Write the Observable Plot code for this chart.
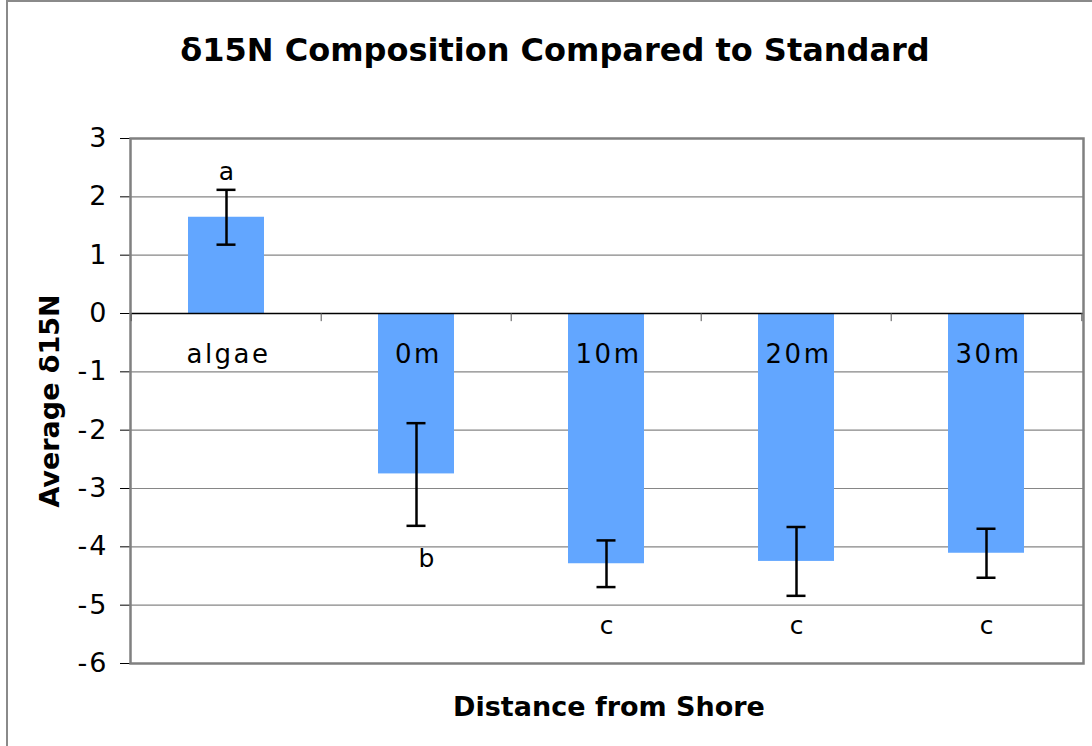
<!DOCTYPE html>
<html>
<head>
<meta charset="utf-8">
<script src="https://cdn.jsdelivr.net/npm/d3@7"></script>
<script src="https://cdn.jsdelivr.net/npm/@observablehq/plot@0.6"></script>
<style>
  html, body { margin: 0; padding: 0; background: white; overflow: hidden; }
  #wrap { position: relative; width: 1092px; height: 746px; }
  #outer { position: absolute; left: 6px; top: 0; width: 1200px; height: 900px;
           border-left: 2px solid #8a8a8a; border-top: 2px solid #8a8a8a; pointer-events: none; }
</style>
</head>
<body>
<div id="wrap"><div id="chart"></div><div id="outer"></div></div>
<script>
const categories = ["algae", "0m", "10m", "20m", "30m"];
const values     = [1.65, -2.75, -4.29, -4.25, -4.11];
const errHigh    = [2.12, -1.88, -3.89, -3.66, -3.69];
const errLow     = [1.18, -3.64, -4.69, -4.84, -4.53];
const sigLetters = ["a", "b", "c", "c", "c"];
const letterY    = [2.42, -4.2, -5.35, -5.35, -5.35];
const yTicks     = [3, 2, 1, 0, -1, -2, -3, -4, -5, -6];
const title  = "δ15N Composition Compared to Standard";
const yLabel = "Average δ15N";
const xLabel = "Distance from Shore";

const data = categories.map((c, i) => ({
  cat: c, value: values[i], hi: errHigh[i], lo: errLow[i], letter: sigLetters[i], ly: letterY[i]
}));

const step = (1092 - 130 - 9) / 5;

const chart = Plot.plot({
  width: 1092,
  height: 746,
  marginLeft: 130,
  marginRight: 9,
  marginTop: 138,
  marginBottom: 83,
  style: { fontFamily: "DejaVu Sans", fontSize: "26px", background: "white", color: "black" },
  x: { type: "band", domain: categories, paddingInner: 0.6, paddingOuter: 0.3, axis: null },
  y: { domain: [-6, 3], ticks: yTicks, tickFormat: d => String(d), tickSize: 10, tickPadding: 12, label: null },
  marks: [
    Plot.ruleY(yTicks, { stroke: "#868686", strokeWidth: 1.2 }),
    Plot.barY(data, { x: "cat", y: "value", fill: "#62A6FF" }),
    Plot.ruleY([0], { stroke: "#000", strokeWidth: 1.5 }),
    Plot.frame({ stroke: "#808080", strokeWidth: 2.5 }),
    Plot.ruleX(data, { x: "cat", y1: () => 0, y2: () => -0.14, dx: -step / 2, stroke: "#555" }),
    Plot.ruleX(data.slice(-1), { x: "cat", y1: () => 0, y2: () => -0.14, dx: step / 2, stroke: "#555" }),
    Plot.ruleX(data, { x: "cat", y1: "lo", y2: "hi", stroke: "#000", strokeWidth: 2.5 }),
    Plot.tickY(data, { x: "cat", y: "hi", stroke: "#000", strokeWidth: 2.5, insetLeft: 28.5, insetRight: 28.5 }),
    Plot.tickY(data, { x: "cat", y: "lo", stroke: "#000", strokeWidth: 2.5, insetLeft: 28.5, insetRight: 28.5 }),
    Plot.text(data, { x: "cat", y: () => 0, text: "cat", dx: 2, dy: 41, fontSize: 26, fill: "#000" }),
    Plot.text(data.filter(d => d.letter !== "b"), { x: "cat", y: "ly", text: "letter", fontSize: 25, fill: "#000" }),
    Plot.text(data.filter(d => d.letter === "b"), { x: "cat", y: "ly", text: "letter", dx: 10, fontSize: 25, fill: "#000" }),
    Plot.text([title], { frameAnchor: "top", dx: -52, dy: -100, fontSize: 32, fontWeight: "bold", fill: "#000" }),
    Plot.text([yLabel], { frameAnchor: "left", textAnchor: "middle", dx: -80, rotate: -90, fontSize: 27, fontWeight: "bold", fill: "#000" }),
    Plot.text([xLabel], { frameAnchor: "bottom", dx: 2, dy: 52, fontSize: 27, fontWeight: "bold", fill: "#000" })
  ]
});

const tickStrings = yTicks.map(String);
d3.select(chart).selectAll("text").each(function () {
  const t = this.textContent;
  if (tickStrings.includes(t)) {
    d3.select(this).style("letter-spacing", "2px").style("font-size", "27px");
  } else if (categories.includes(t)) {
    d3.select(this).style("letter-spacing", "2.5px").style("font-size", "26px");
  }
});

document.getElementById("chart").appendChild(chart);
</script>
</body>
</html>
